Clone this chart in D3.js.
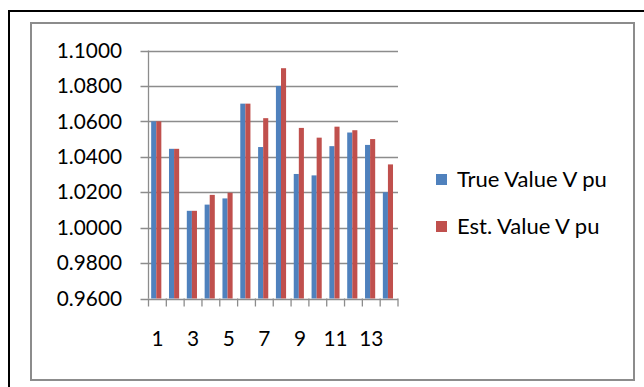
<!DOCTYPE html>
<html>
<head>
<meta charset="utf-8">
<script src="https://cdn.jsdelivr.net/npm/d3@7"></script>
<style>
    html, body { margin: 0; padding: 0; background: #fff; }
    svg text { font-family: Lato, "Open Sans", sans-serif; fill: #000; }
</style>
</head>
<body>
<svg id="chartSvg" width="644" height="387"></svg>
<script>
var buses = [1, 2, 3, 4, 5, 6, 7, 8, 9, 10, 11, 12, 13, 14];
var trueValues = [1.0600, 1.0445, 1.0095, 1.0130, 1.0165, 1.0700, 1.0455, 1.0800, 1.0303, 1.0295, 1.0460, 1.0537, 1.0467, 1.0200];
var estValues = [1.0600, 1.0445, 1.0095, 1.0185, 1.0197, 1.0700, 1.0618, 1.0900, 1.0563, 1.0508, 1.0570, 1.0550, 1.0500, 1.0357];
var yTicks = [0.96, 0.98, 1.00, 1.02, 1.04, 1.06, 1.08, 1.10];
var seriesNames = ['True Value V pu', 'Est. Value V pu'];
var seriesColors = ['#4F81BD', '#C0504D'];

var svg = d3.select('svg#chartSvg');

// outer black frame, cut off at the right and bottom
svg.append('rect')
    .attr('x', 9).attr('y', 11)
    .attr('width', 700).attr('height', 500)
    .attr('fill', 'none').attr('stroke', '#000').attr('stroke-width', 2);

// chart area frame
svg.append('rect')
    .attr('x', 31).attr('y', 23)
    .attr('width', 603).attr('height', 357)
    .attr('fill', '#fff').attr('stroke', '#8c8c8c').attr('stroke-width', 2);

var plot = { left: 148.5, right: 398, top: 50.5, bottom: 298.5 };

var x0 = d3.scaleBand()
    .domain(buses)
    .range([plot.left, plot.right]);
var x1 = d3.scaleBand()
    .domain([0, 1])
    .range([x0.bandwidth() * 0.15, x0.bandwidth() * 0.72]);
var y = d3.scaleLinear()
    .domain([0.96, 1.10])
    .range([plot.bottom, plot.top]);

// gridlines
svg.append('g')
    .selectAll('line')
    .data(yTicks)
    .enter()
    .append('line')
    .attr('x1', plot.left - 8)
    .attr('x2', plot.right)
    .attr('y1', function (d) { return Math.round(y(d)) + 0.5; })
    .attr('y2', function (d) { return Math.round(y(d)) + 0.5; })
    .attr('stroke', '#8c8c8c')
    .attr('stroke-width', 1.3);

// y labels
svg.append('g')
    .selectAll('text')
    .data(yTicks)
    .enter()
    .append('text')
    .attr('x', 122)
    .attr('y', function (d) { return y(d); })
    .attr('dy', '0.35em')
    .attr('text-anchor', 'end')
    .attr('font-size', '20.8px')
    .text(function (d) { return d3.format('.4f')(d); });

// bars
var rows = buses.map(function (b, i) {
    return { bus: b, values: [trueValues[i], estValues[i]] };
});
var groups = svg.append('g')
    .selectAll('g')
    .data(rows)
    .enter()
    .append('g')
    .attr('transform', function (d) { return 'translate(' + x0(d.bus) + ',0)'; });
groups.selectAll('rect')
    .data(function (d) { return d.values; })
    .enter()
    .append('rect')
    .attr('x', function (d, i) { return x1(i); })
    .attr('width', x1.bandwidth())
    .attr('y', function (d) { return y(d); })
    .attr('height', function (d) { return plot.bottom - y(d); })
    .attr('fill', function (d, i) { return seriesColors[i]; });

// y axis line
svg.append('line')
    .attr('x1', plot.left).attr('x2', plot.left)
    .attr('y1', plot.top).attr('y2', plot.bottom)
    .attr('stroke', '#8c8c8c').attr('stroke-width', 1.3);

// x ticks at band edges
var edges = buses.map(function (b) { return x0(b); }).concat([plot.right]);
svg.append('g')
    .selectAll('line')
    .data(edges)
    .enter()
    .append('line')
    .attr('x1', function (d) { return d; })
    .attr('x2', function (d) { return d; })
    .attr('y1', plot.bottom)
    .attr('y2', plot.bottom + 8)
    .attr('stroke', '#8c8c8c')
    .attr('stroke-width', 1.3);

// x labels, every other bus
svg.append('g')
    .selectAll('text')
    .data(buses.filter(function (b) { return b % 2 === 1; }))
    .enter()
    .append('text')
    .attr('x', function (d) { return x0(d) + x0.bandwidth() / 2; })
    .attr('y', 339)
    .attr('dy', '0.35em')
    .attr('text-anchor', 'middle')
    .attr('font-size', '20.8px')
    .text(function (d) { return d; });

// legend
var legend = svg.append('g')
    .selectAll('g')
    .data(seriesNames)
    .enter()
    .append('g')
    .attr('transform', function (d, i) { return 'translate(436,' + (179 + i * 47) + ')'; });
legend.append('rect')
    .attr('x', 0).attr('y', -5)
    .attr('width', 11).attr('height', 11)
    .attr('fill', function (d, i) { return seriesColors[i]; });
legend.append('text')
    .attr('x', 21)
    .attr('y', 0)
    .attr('dy', '0.35em')
    .attr('font-size', '22px')
    .text(function (d) { return d; });
</script>
</body>
</html>
